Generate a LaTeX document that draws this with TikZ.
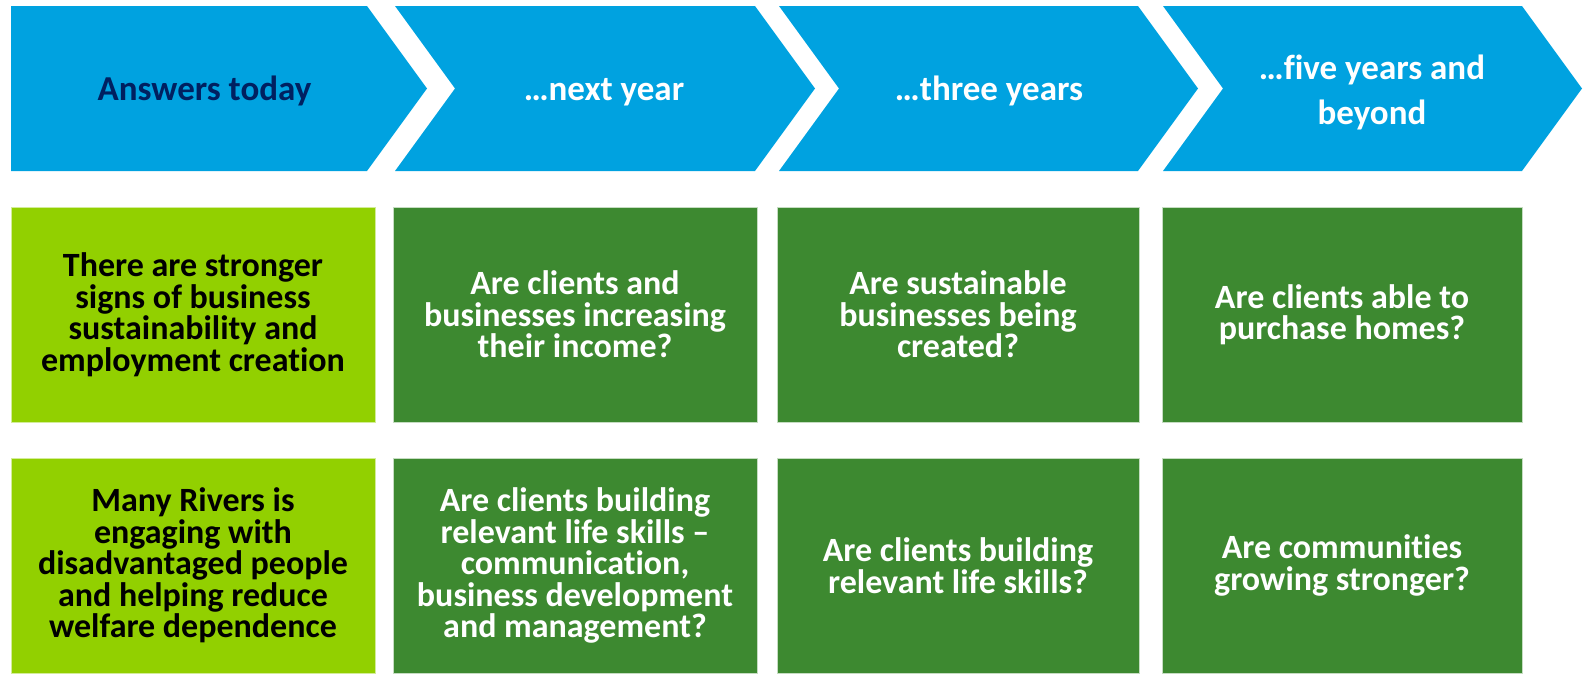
\documentclass[tikz,border=0pt]{standalone}
\usepackage{fontspec}
\setmainfont{Carlito}[Ligatures={NoCommon,NoRare,NoContextual}]
\definecolor{chevblue}{RGB}{0,162,224}
\definecolor{lgreen}{RGB}{146,208,0}
\definecolor{dgreen}{RGB}{61,137,48}
\definecolor{navy}{RGB}{0,32,96}
\tikzset{
  chev/.style={fill=chevblue, draw=none},
  headtext/.style={text=white, align=center, font=\fontsize{35}{45}\selectfont\bfseries, inner sep=0pt},
  cellbox/.style={minimum height=215pt, inner sep=0pt, draw=white!70!dgreen, line width=0.6pt, align=center,
     font=\fontsize{34}{31.5}\selectfont\bfseries},
  todaybox/.style={cellbox, fill=lgreen, draw=white!60!lgreen, text=black},
  qbox/.style={cellbox, fill=dgreen, text=white},
}
\begin{document}
\begin{tikzpicture}[x=1pt,y=-1pt]
\useasboundingbox (0,0) rectangle (1585,673);
% chevrons
\draw[chev] (11,6) -- (367,6) -- (427,88.5) -- (367,171) -- (11,171) -- cycle;
\draw[chev] (395,6) -- (755,6) -- (815,88.5) -- (755,171) -- (395,171) -- (455,88.5) -- cycle;
\draw[chev] (779,6) -- (1138,6) -- (1198,88.5) -- (1138,171) -- (779,171) -- (839,88.5) -- cycle;
\draw[chev] (1163,6) -- (1522,6) -- (1582,88.5) -- (1522,171) -- (1163,171) -- (1223,88.5) -- cycle;
% header texts
\node[headtext, text=navy, anchor=base] (h1) at (204.5,100) {Answers today};
\node[headtext, anchor=base] (h2) at (604,100) {…next year};
\node[headtext, anchor=base] (h3) at (989,100) {…three years};
\node[headtext] (h4) at (1372,92) {…five years and\\beyond};
% row 1
\node[todaybox, minimum width=364pt] (r1c1) at (193,314.5) {There are stronger\\signs of business\\sustainability and\\employment creation};
\node[qbox, minimum width=364pt] (r1c2) at (575,314.5) {Are clients and\\businesses increasing\\their income?};
\node[qbox, minimum width=362pt] (r1c3) at (958,314.5) {Are sustainable\\businesses being\\created?};
\node[qbox, minimum width=360pt] (r1c4) at (1342,314.5) {Are clients able to\\purchase homes?};
% row 2
\node[todaybox, minimum width=364pt] (r2c1) at (193,565.5) {Many Rivers is\\engaging with\\disadvantaged people\\and helping reduce\\welfare dependence};
\node[qbox, minimum width=364pt] (r2c2) at (575,565.5) {Are clients building\\relevant life skills –\\communication,\\business development\\and management?};
\node[qbox, minimum width=362pt] (r2c3) at (958,565.5) {Are clients building\\relevant life skills?};
\node[qbox, minimum width=360pt] (r2c4) at (1342,565.5) {Are communities\\growing stronger?};
\end{tikzpicture}
\end{document}
